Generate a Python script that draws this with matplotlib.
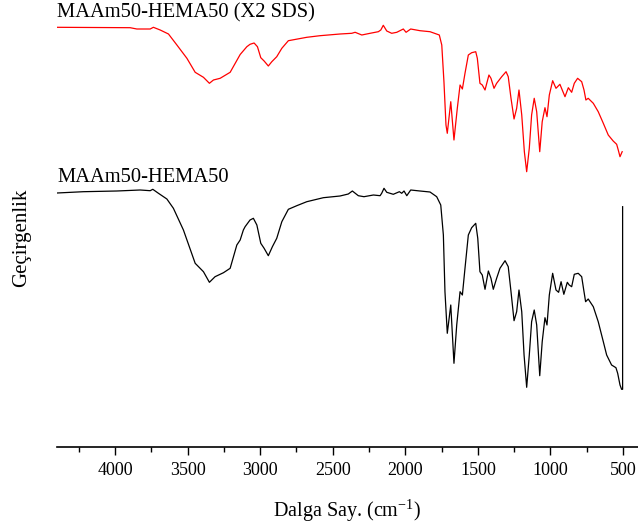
import matplotlib.pyplot as plt
from matplotlib.ticker import MultipleLocator

plt.rcParams['font.family'] = ['Liberation Serif', 'DejaVu Serif']
plt.rcParams['mathtext.fontset'] = 'stix'

# MAAm50-HEMA50 (X2 SDS) - wavenumber (cm-1), transmittance (a.u.)
wn_sds = [4400, 3896, 3850, 3758, 3736, 3689, 3632, 3574, 3505, 3448, 3391, 3350, 3322, 3276,
          3207, 3138, 3092, 3070, 3042, 3019, 2996, 2973, 2944, 2920, 2886, 2851, 2806, 2679,
          2588, 2450, 2369, 2346, 2300, 2243, 2186, 2169, 2152, 2128, 2094, 2059, 2014, 1995,
          1963, 1899, 1830, 1766, 1749, 1734, 1720, 1711, 1687, 1665, 1642, 1623, 1607, 1589,
          1566, 1543, 1515, 1504, 1486, 1470, 1451, 1424, 1410, 1389, 1371, 1336, 1306, 1291,
          1272, 1251, 1233, 1217, 1198, 1180, 1164, 1146, 1130, 1112, 1095, 1074, 1057, 1038,
          1024, 1008, 985, 962, 935, 919, 900, 877, 854, 836, 813, 785, 769, 756, 740, 705,
          671, 636, 602, 568, 544, 533, 521, 506]
t_sds = [422.7, 422.3, 421, 421, 422.7, 420, 416, 405, 391.7, 377.7, 372.7, 366.7, 370, 371.7,
         377.7, 395.5, 403.3, 405.7, 407, 403.3, 392.3, 389, 384, 388.3, 393.3, 401.7, 409.3, 412.7,
         414.3, 416, 416.7, 417.7, 415, 416.7, 418.3, 420, 424.7, 419, 416.7, 417.7, 421, 417.7,
         421, 419.3, 418.3, 415, 405, 368.3, 325, 316.7, 348.3, 310, 341.7, 365, 361, 376.7,
         395, 397.3, 398.3, 391.7, 366.7, 365, 360, 375, 371.7, 361.7, 366.7, 373.3, 378.3, 373.3,
         351.7, 331, 341.7, 360, 335, 298.3, 278.3, 301.7, 335, 351.7, 338.3, 298.3, 328.3, 342.3,
         333.3, 355, 369.3, 361.7, 365.7, 360, 353.3, 362.3, 357.7, 366.7, 371.7, 368.3, 360, 350, 351.7, 346.7,
         338.3, 326.7, 315, 309, 305.7, 300, 293.3, 298.3]

# MAAm50-HEMA50
wn_base = [4400, 4218, 3988, 3827, 3758, 3740, 3701, 3643, 3598, 3529, 3448, 3391, 3350, 3311,
           3253, 3207, 3161, 3138, 3116, 3104, 3070, 3047, 3023, 2996, 2973, 2944, 2916, 2886,
           2851, 2806, 2748, 2679, 2565, 2450, 2393, 2365, 2324, 2285, 2220, 2174, 2163, 2147,
           2128, 2083, 2041, 2025, 2009, 1990, 1963, 1899, 1830, 1784, 1756, 1738, 1727, 1711,
           1687, 1665, 1646, 1623, 1607, 1589, 1566, 1543, 1515, 1501, 1486, 1470, 1451, 1428,
           1410, 1394, 1371, 1348, 1313, 1291, 1272, 1251, 1233, 1217, 1198, 1182, 1164, 1146,
           1130, 1112, 1095, 1074, 1057, 1038, 1024, 1008, 985, 962, 944, 927, 908, 884, 871,
           854, 836, 809, 785, 769, 758, 740, 705, 671, 636, 613, 579, 549, 537, 521, 510, 503, 503]
t_base = [257, 258.3, 259, 260, 259.3, 260.7, 256.7, 251, 241.7, 220, 186.7, 178.3, 167.7, 173.3,
          177.3, 181.7, 205, 210, 220, 223.3, 230, 231.7, 225, 206.7, 201.7, 194.3, 203.3, 211.7,
          228.3, 240.7, 244.3, 248.3, 252.3, 254, 256, 259, 254.3, 253.3, 255, 254.3, 256.7, 261.7,
          257.7, 255.7, 258.3, 256.7, 259, 254.3, 260, 259, 258, 253.3, 245, 215, 158.3, 116.7,
          145, 86.7, 125, 158.3, 155, 181.7, 215, 222.3, 226.7, 211.7, 178.3, 175, 160.7, 179,
          171.7, 160.7, 171.7, 181.7, 189.3, 183.3, 158.3, 129.3, 138.3, 160, 138.3, 95, 62.7, 95,
          128.3, 140, 125, 74.3, 108.3, 132.3, 125, 155, 176.7, 160, 157.7, 168.3, 155.7, 167.7, 165,
          163.3, 175.7, 176.7, 173.3, 158.3, 148.3, 151, 143.3, 128.3, 108.3, 95, 85, 82.3, 76.7, 65, 60.7, 60.7, 243.3]

fig = plt.figure(figsize=(6.38, 5.30), dpi=100)
ax = fig.add_axes([57 / 638, 83 / 530, 581 / 638, 447 / 530])

ax.plot(wn_sds, t_sds, color='#ff0000', lw=0.9)
ax.plot(wn_base, t_base, color='black', lw=0.9)

ax.set_xlim(4400, 397)
ax.set_ylim(3, 450)

for s in ['top', 'left', 'right']:
    ax.spines[s].set_visible(False)
ax.spines['bottom'].set_linewidth(1.2)
ax.set_yticks([])
ax.xaxis.set_major_locator(MultipleLocator(500))
ax.xaxis.set_minor_locator(MultipleLocator(250))
ax.tick_params(axis='x', which='major', direction='out', length=6, width=1, labelsize=13, pad=5)
ax.tick_params(axis='x', which='minor', direction='out', length=3.5, width=1)

ax.set_xlabel(r'Dalga Say. (cm$^{\mathregular{-1}}$)', fontsize=14.5, labelpad=13)
fig.text(22 / 638, 1 - 238 / 530, 'Geçirgenlik', rotation=90, fontsize=15, ha='center', va='center')

fig.text(57 / 638, 1 - 13 / 530, 'MAAm50-HEMA50 (X2 SDS)', fontsize=14.8, ha='left', va='center')
fig.text(57 / 638, 1 - 178 / 530, 'MAAm50-HEMA50', fontsize=14.8, ha='left', va='center')

fig.savefig('out.png', dpi=100)
